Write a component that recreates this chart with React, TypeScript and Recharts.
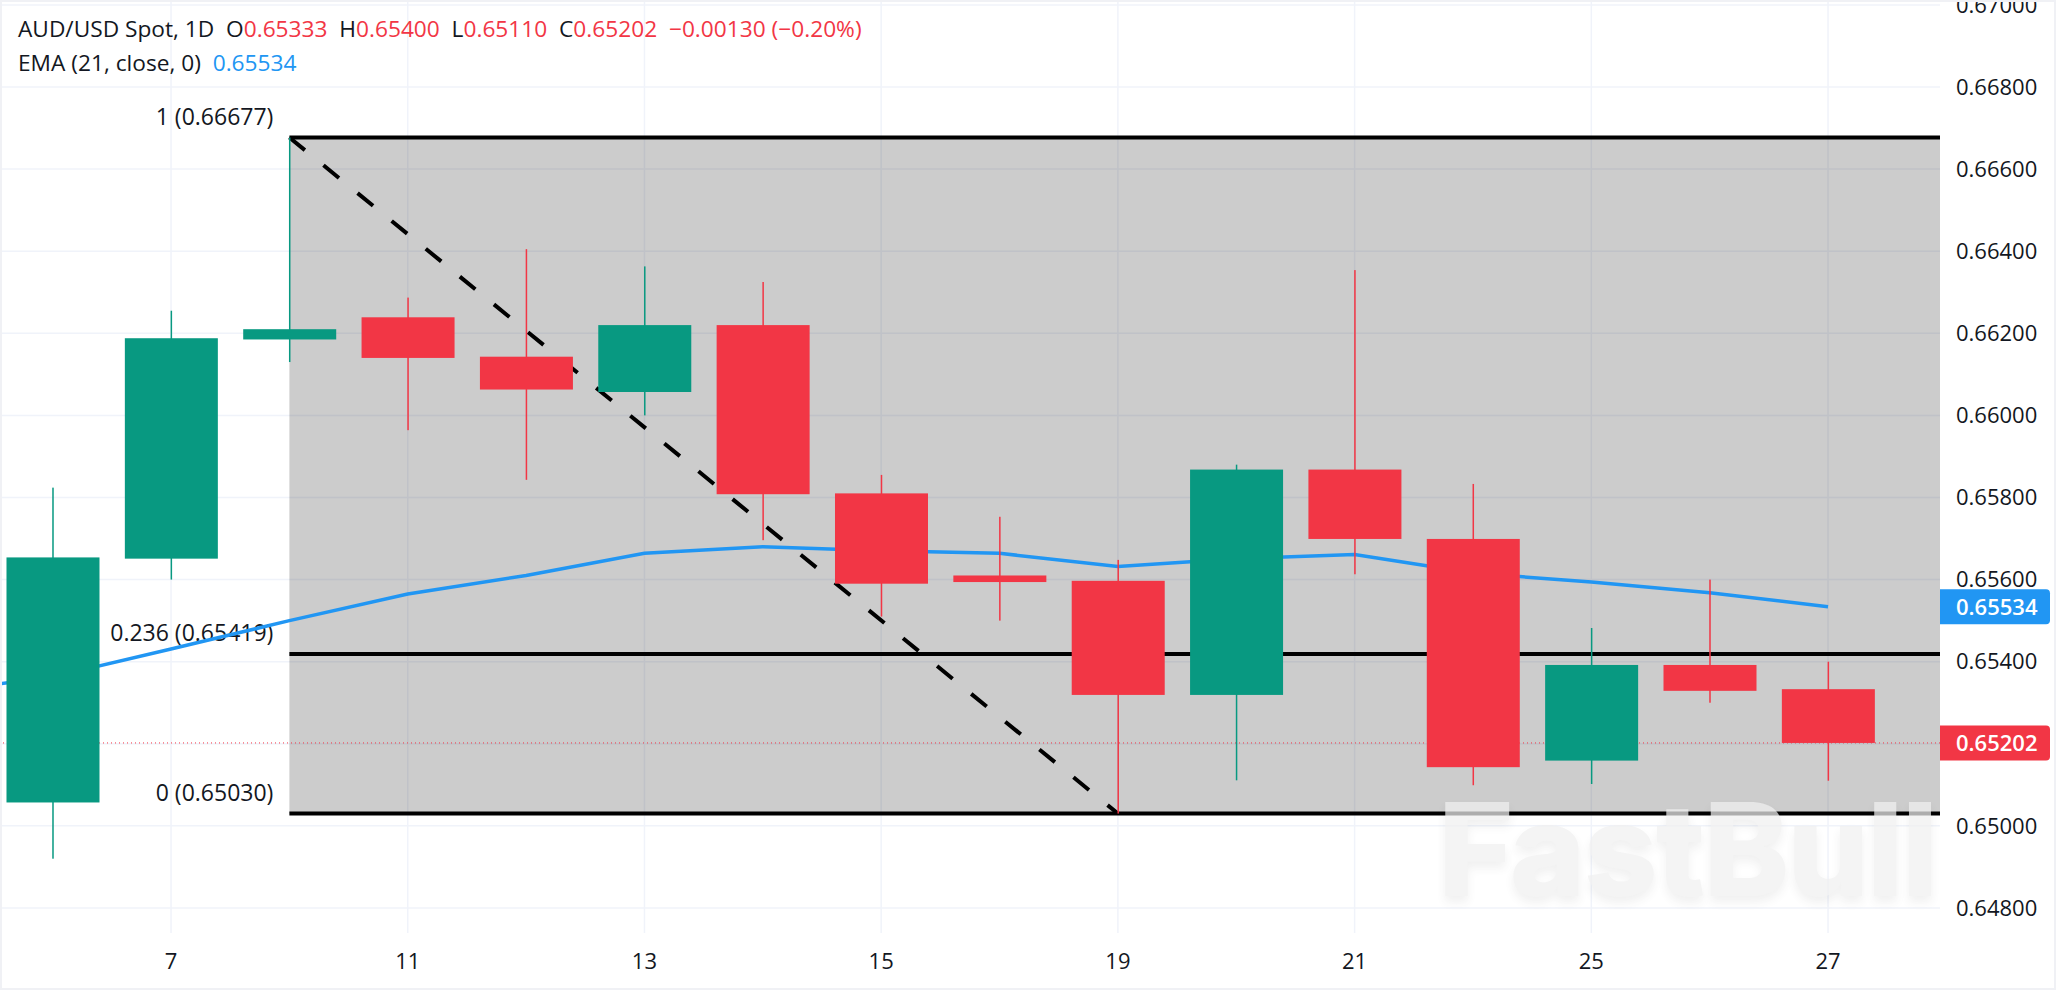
import {
  Bar,
  CartesianGrid,
  ComposedChart,
  Line,
  ReferenceArea,
  ReferenceDot,
  ReferenceLine,
  XAxis,
  YAxis,
} from "recharts";

const dayLabels = ["6", "7", "8", "11", "12", "13", "14", "15", "18", "19", "20", "21", "22", "25", "26", "27"];
const opens = [0.65057, 0.65651, 0.66185, 0.66239, 0.66143, 0.66057, 0.6622, 0.6581, 0.6561, 0.65597, 0.65319, 0.65868, 0.65699, 0.65159, 0.65392, 0.65333];
const highs = [0.65824, 0.66255, 0.66677, 0.66287, 0.66405, 0.66363, 0.66325, 0.65855, 0.65753, 0.65648, 0.6588, 0.66354, 0.65833, 0.65482, 0.656, 0.654];
const lows = [0.6492, 0.656, 0.6613, 0.65964, 0.65843, 0.66, 0.65696, 0.6551, 0.655, 0.6503, 0.65111, 0.65613, 0.65099, 0.65102, 0.653, 0.6511];
const closes = [0.65654, 0.66188, 0.6621, 0.6614, 0.66063, 0.6622, 0.65808, 0.6559, 0.65594, 0.65319, 0.65868, 0.65699, 0.65143, 0.65392, 0.65329, 0.65202];
const emaValues = [0.65363, 0.65431, 0.655, 0.65565, 0.6561, 0.65664, 0.6568, 0.6567, 0.65664, 0.65632, 0.65651, 0.65661, 0.65616, 0.65594, 0.65568, 0.65534];
const emaBefore = 0.65325; // previous session, only its tail shows at the left edge

const priceTicks = [0.648, 0.65, 0.652, 0.654, 0.656, 0.658, 0.66, 0.662, 0.664, 0.666, 0.668, 0.67];
const coveredTick = 0.652; // sits under the last price badge
const dayTicks = [1, 3, 5, 7, 9, 11, 13, 15];

const fibTop = 0.66677;
const fibMid = 0.65419;
const fibBottom = 0.6503;
const lastClose = 0.65202;
const lastEma = 0.65534;

const X_MIN = -0.445;
const X_MAX = 15.946;
const UP = "#089981";
const DOWN = "#f23645";
const EMA = "#2196f3";
const FONT = "'Open Sans', sans-serif";

const chartData = [
  { idx: -1, ema: emaBefore },
  ...dayLabels.map((_, i) => ({
    idx: i,
    range: [lows[i], highs[i]],
    open: opens[i],
    close: closes[i],
    ema: emaValues[i],
  })),
];

function Candle(props: any) {
  const { x, y, width, height, payload } = props;
  if (!payload || !payload.range) return null;
  const [low, high] = payload.range;
  const perUnit = height / (high - low);
  const color = payload.close >= payload.open ? UP : DOWN;
  const bodyTop = y + (high - Math.max(payload.open, payload.close)) * perUnit;
  const bodyH = Math.abs(payload.open - payload.close) * perUnit;
  return (
    <g>
      <rect x={x + width / 2 - 0.75} y={y} width={1.5} height={height} fill={color} />
      <rect x={x} y={bodyTop} width={width} height={bodyH} fill={color} />
    </g>
  );
}

function fibLabel(text: string) {
  return (p: any) => (
    <text x={p.cx - 16} y={p.cy - 13} textAnchor="end" fontFamily={FONT} fontSize={23} fill="#131722">
      {text}
    </text>
  );
}

function priceBadge(text: string, color: string) {
  return (p: any) => (
    <g>
      <path d={`M${p.cx} ${p.cy - 17.5}h106a4 4 0 0 1 4 4v27a4 4 0 0 1 -4 4h-106z`} fill={color} />
      <text x={p.cx + 16} y={p.cy + 8} fontFamily={FONT} fontSize={22} fontWeight={600} fill="#fff">
        {text}
      </text>
    </g>
  );
}

const red = { color: DOWN };

export default function App() {
  return (
    <div style={{ position: "absolute", left: 0, top: 0, width: 2056, height: 990, overflow: "hidden", background: "#fff" }}>
      <ComposedChart width={2056} height={990} data={chartData} margin={{ top: 0, right: 0, bottom: 0, left: 0 }}>
        <CartesianGrid stroke="#f0f3fa" strokeWidth={1.5} syncWithTicks />
        <XAxis
          dataKey="idx"
          type="number"
          domain={[X_MIN, X_MAX]}
          allowDataOverflow
          ticks={dayTicks}
          interval={0}
          tickFormatter={(v) => dayLabels[v]}
          axisLine={false}
          tickLine={false}
          tickSize={0}
          height={57}
          tickMargin={20}
          tick={{ fontFamily: FONT, fontSize: 22, fill: "#131722" }}
        />
        <YAxis
          orientation="right"
          type="number"
          domain={[0.64739, 0.67012]}
          allowDataOverflow
          ticks={priceTicks}
          interval={0}
          tickFormatter={(v) => (v === coveredTick ? "" : v.toFixed(5))}
          axisLine={false}
          tickLine={false}
          tickSize={0}
          width={116}
          tickMargin={16}
          tick={{ fontFamily: FONT, fontSize: 22, fill: "#131722" }}
        />

        <ReferenceArea zIndex={-50} x1={2} x2={X_MAX} y1={fibBottom} y2={fibTop} fill="#000" fillOpacity={0.2} stroke="none" />
        <ReferenceLine zIndex={150} y={lastClose} stroke={DOWN} strokeWidth={1} strokeDasharray="1 3" />
        <ReferenceLine zIndex={160} segment={[{ x: 2, y: fibTop }, { x: X_MAX, y: fibTop }]} stroke="#000" strokeWidth={4} />
        <ReferenceLine zIndex={160} segment={[{ x: 2, y: fibMid }, { x: X_MAX, y: fibMid }]} stroke="#000" strokeWidth={4} />
        <ReferenceLine zIndex={160} segment={[{ x: 2, y: fibBottom }, { x: X_MAX, y: fibBottom }]} stroke="#000" strokeWidth={4} />
        <ReferenceLine zIndex={160} segment={[{ x: 2, y: fibTop }, { x: 9, y: fibBottom }]} stroke="#000" strokeWidth={4} strokeDasharray="20 24" />
        <ReferenceDot zIndex={170} x={2} y={fibTop} r={0} shape={fibLabel("1 (0.66677)")} />
        <ReferenceDot zIndex={170} x={2} y={fibMid} r={0} shape={fibLabel("0.236 (0.65419)")} />
        <ReferenceDot zIndex={170} x={2} y={fibBottom} r={0} shape={fibLabel("0 (0.65030)")} />

        <Line zIndex={200} dataKey="ema" stroke={EMA} strokeWidth={3.5} dot={false} activeDot={false} isAnimationActive={false} connectNulls />
        <Bar zIndex={300} dataKey="range" barSize={93} shape={Candle} isAnimationActive={false} />

        <ReferenceDot zIndex={900} x={X_MAX} y={lastEma} r={0} shape={priceBadge("0.65534", EMA)} />
        <ReferenceDot zIndex={900} x={X_MAX} y={lastClose} r={0} shape={priceBadge("0.65202", DOWN)} />
      </ComposedChart>

      {/* header legend */}
      <div style={{ position: "absolute", left: 18, top: 14, fontFamily: FONT, fontSize: 22.7, color: "#131722", whiteSpace: "pre", lineHeight: "30px" }}>
        <div>
          AUD/USD Spot, 1D  O<span style={red}>0.65333</span>  H<span style={red}>0.65400</span>  L<span style={red}>0.65110</span>  C
          <span style={red}>0.65202</span>  <span style={red}>−0.00130 (−0.20%)</span>
        </div>
        <div style={{ marginTop: 4 }}>
          EMA (21, close, 0)  <span style={{ color: EMA }}>0.65534</span>
        </div>
      </div>

      {/* watermark */}
      <div
        style={{
          position: "absolute",
          left: 1438,
          top: 771,
          fontFamily: "Inter, sans-serif",
          fontWeight: 800,
          fontSize: 129,
          lineHeight: "156px",
          letterSpacing: -2,
          color: "#f0f0f0",
          opacity: 0.72,
          textShadow: "0 6px 10px rgba(0,0,0,0.08)",
          whiteSpace: "pre",
        }}
      >
        FastBull
      </div>

      {/* pale screenshot edge */}
      <div style={{ position: "absolute", inset: 0, boxShadow: "inset 0 0 0 2px #f0f1f5", pointerEvents: "none" }} />
    </div>
  );
}
